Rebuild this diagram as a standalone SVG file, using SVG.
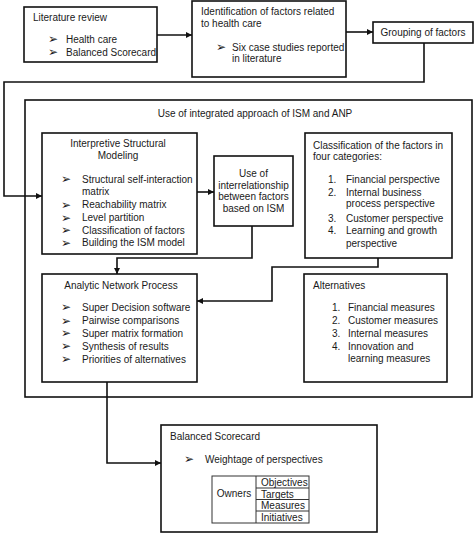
<svg xmlns="http://www.w3.org/2000/svg" width="474" height="534" viewBox="0 0 474 534">
<style>
rect.box{fill:#fff;stroke:#111;stroke-width:1.6}
rect.cell{fill:none;stroke:#333;stroke-width:1}
text{font-family:"Liberation Sans",Arial,sans-serif;font-size:10px;fill:#1a1a1a}
text.c{text-anchor:middle}
text.b{font-family:"DejaVu Sans",sans-serif;font-size:12px}
.con{fill:none;stroke:#111;stroke-width:1.6}
</style>
<defs>
<marker id="a" markerWidth="7" markerHeight="7" refX="6" refY="3.5" orient="auto" markerUnits="userSpaceOnUse">
<path d="M0,0.5 L6,3.5 L0,6.5 z" fill="#111"/>
</marker>
</defs>
<rect width="474" height="534" fill="#fff"/>
<g id="outer">
<rect class="box" x="25" y="100" width="447" height="297"/>
<text class="c" x="255" y="116.5">Use of integrated approach of ISM and ANP</text>
</g>
<g id="connectors">
<line class="con" x1="157" y1="35" x2="192" y2="35" marker-end="url(#a)"/>
<line class="con" x1="346" y1="32" x2="373" y2="32" marker-end="url(#a)"/>
<polyline class="con" points="424,43 424,82 4,82 4,196 42,196" marker-end="url(#a)"/>
<line class="con" x1="197" y1="192" x2="214" y2="192" marker-end="url(#a)"/>
<polyline class="con" points="252,226 252,258 117,258 117,274" marker-end="url(#a)"/>
<polyline class="con" points="378,258 378,267 272,267 272,301 197,301" marker-end="url(#a)"/>
<polyline class="con" points="107,382 107,463 161,463" marker-end="url(#a)"/>
</g>
<g id="literature">
<rect class="box" x="24" y="7" width="133" height="55"/>
<text x="33" y="21">Literature review</text>
<text class="b" x="48" y="43">➢</text><text x="66" y="42.5">Health care</text>
<text class="b" x="48" y="56">➢</text><text x="66" y="55.5">Balanced Scorecard</text>
</g>
<g id="identification">
<rect class="box" x="192" y="1" width="154" height="76"/>
<text x="201" y="14.5">Identification of factors related</text>
<text x="201" y="27">to health care</text>
<text class="b" x="216" y="51">➢</text><text x="232" y="50.5">Six case studies reported</text>
<text x="232" y="62">in literature</text>
</g>
<g id="grouping">
<rect class="box" x="373" y="22" width="100" height="21"/>
<text class="c" x="423" y="35.5">Grouping of factors</text>
</g>
<g id="ism">
<rect class="box" x="42" y="133" width="155" height="121"/>
<text class="c" x="118" y="146.5">Interpretive Structural</text>
<text class="c" x="118" y="158.5">Modeling</text>
<text class="b" x="61" y="183">➢</text><text x="82" y="182.5">Structural self-interaction</text>
<text x="82" y="195">matrix</text>
<text class="b" x="61" y="208.5">➢</text><text x="82" y="208">Reachability matrix</text>
<text class="b" x="61" y="221.5">➢</text><text x="82" y="221">Level partition</text>
<text class="b" x="61" y="234">➢</text><text x="82" y="233.5">Classification of factors</text>
<text class="b" x="61" y="246.5">➢</text><text x="82" y="246">Building the ISM model</text>
</g>
<g id="useof">
<rect class="box" x="214" y="156" width="79" height="70"/>
<text class="c" x="253.5" y="177">Use of</text>
<text class="c" x="253.5" y="188.5">interrelationship</text>
<text class="c" x="253.5" y="200">between factors</text>
<text class="c" x="253.5" y="211.5">based on ISM</text>
</g>
<g id="classification">
<rect class="box" x="305" y="133" width="147" height="125"/>
<text x="313" y="148.5">Classification of the factors in</text>
<text x="313" y="159.5">four categories:</text>
<text x="328" y="182.5">1.</text><text x="346" y="182.5">Financial perspective</text>
<text x="328" y="195.5">2.</text><text x="346" y="195.5">Internal business</text>
<text x="346" y="206.5">process perspective</text>
<text x="328" y="221.5">3.</text><text x="346" y="221.5">Customer perspective</text>
<text x="328" y="233.5">4.</text><text x="346" y="233.5">Learning and growth</text>
<text x="346" y="246.5">perspective</text>
</g>
<g id="anp">
<rect class="box" x="42" y="274" width="155" height="108"/>
<text class="c" x="121" y="288.5">Analytic Network Process</text>
<text class="b" x="61" y="311">➢</text><text x="82" y="310.5">Super Decision software</text>
<text class="b" x="61" y="324.5">➢</text><text x="82" y="324">Pairwise comparisons</text>
<text class="b" x="61" y="337">➢</text><text x="82" y="336.5">Super matrix formation</text>
<text class="b" x="61" y="350">➢</text><text x="82" y="349.5">Synthesis of results</text>
<text class="b" x="61" y="363">➢</text><text x="82" y="362.5">Priorities of alternatives</text>
</g>
<g id="alternatives">
<rect class="box" x="304" y="274" width="143" height="108"/>
<text x="313" y="288.5">Alternatives</text>
<text x="332" y="311">1.</text><text x="348" y="311">Financial measures</text>
<text x="332" y="324">2.</text><text x="348" y="324">Customer measures</text>
<text x="332" y="336.5">3.</text><text x="348" y="336.5">Internal measures</text>
<text x="332" y="349.5">4.</text><text x="348" y="349.5">Innovation and</text>
<text x="348" y="362">learning measures</text>
</g>
<g id="bsc">
<rect class="box" x="161" y="425" width="216" height="107"/>
<text x="170" y="439.5">Balanced Scorecard</text>
<text class="b" x="184" y="463">➢</text><text x="205" y="462.5">Weightage of perspectives</text>
<rect class="cell" x="212" y="476" width="97" height="47"/>
<line x1="256" y1="476" x2="256" y2="523" stroke="#333" stroke-width="1"/>
<line x1="256" y1="488" x2="309" y2="488" stroke="#333" stroke-width="1"/>
<line x1="256" y1="499.5" x2="309" y2="499.5" stroke="#333" stroke-width="1"/>
<line x1="256" y1="511" x2="309" y2="511" stroke="#333" stroke-width="1"/>
<text class="c" x="234" y="496.5">Owners</text>
<text x="261" y="485.5">Objectives</text>
<text x="261" y="497.5">Targets</text>
<text x="261" y="508.5">Measures</text>
<text x="261" y="520.5">Initiatives</text>
</g>
</svg>
